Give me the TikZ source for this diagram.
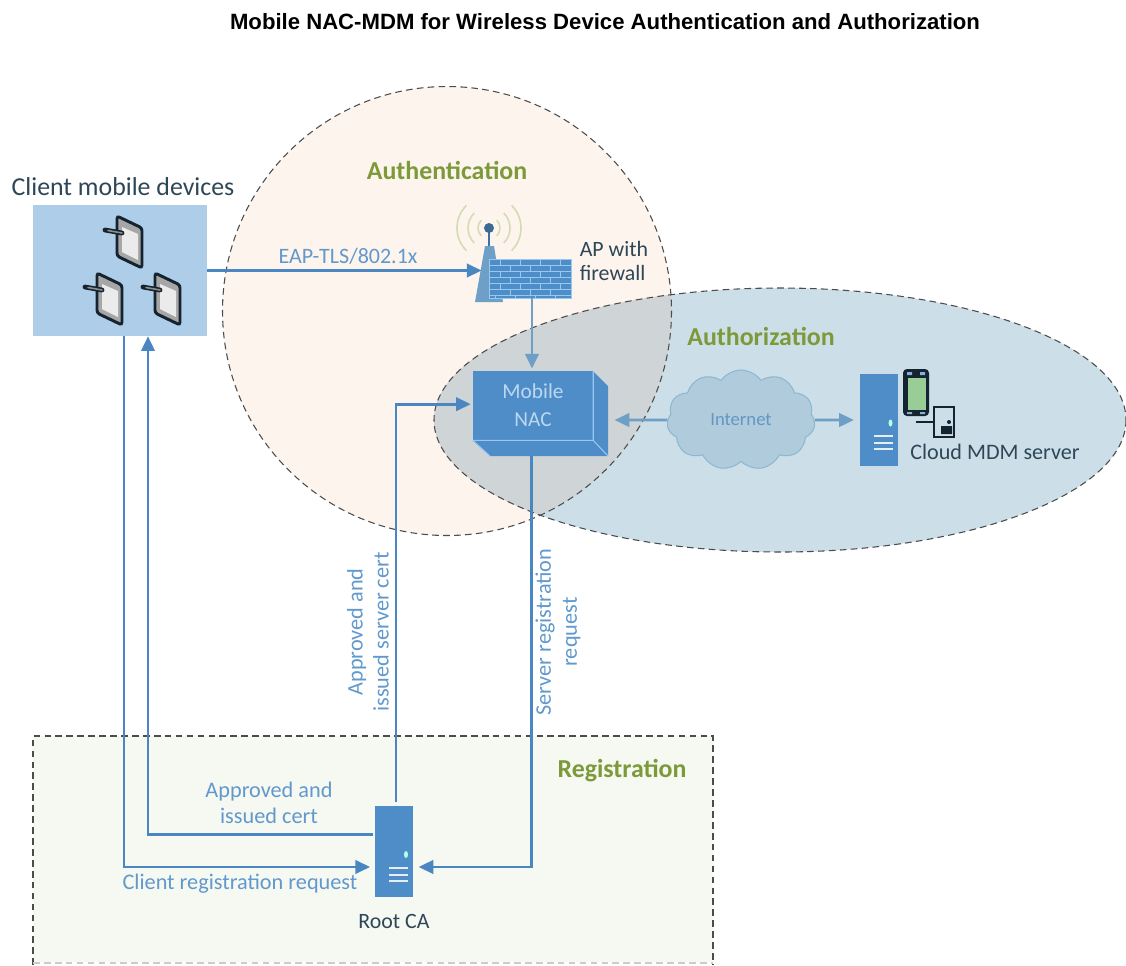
\documentclass[tikz,border=0pt]{standalone}
\usepackage{fontspec}
\setmainfont{Carlito}
\newfontfamily\titlefont{Liberation Sans}
\usetikzlibrary{arrows.meta,shapes.geometric,shapes.symbols}
\definecolor{linkblue}{HTML}{4A86C2}
\definecolor{paleblue}{HTML}{6E9FC6}
\definecolor{boxblue}{HTML}{4F8DC8}
\definecolor{brickline}{HTML}{96C8F0}
\definecolor{labelblue}{HTML}{6199CC}
\definecolor{inkdark}{HTML}{2E4757}
\definecolor{devicedark}{HTML}{14232F}
\definecolor{zoneolive}{HTML}{7C9A3A}
\definecolor{wavegreen}{HTML}{D3DCB2}
\definecolor{authfill}{HTML}{FDF4ED}
\definecolor{authzfill}{HTML}{CCDEE8}
\definecolor{overlapfill}{HTML}{CFD4D6}
\definecolor{regfill}{HTML}{F6F8F2}
\tikzset{%
  link/.style = {draw=linkblue, line width=2pt, -{Triangle[length=11pt,width=10pt]}},
  softlink/.style = {draw=paleblue, line width=2pt, -{Triangle[length=11pt,width=10pt]}},
  zone/.style = {draw=black!70, line width=.8pt, dash pattern=on 5pt off 3.2pt},
  zonelabel/.style = {text=zoneolive, font=\fontsize{19.4}{22}\selectfont\bfseries},
  darklabel/.style = {text=inkdark, align=center, font=\fontsize{16.6}{18}\selectfont},
  bluelabel/.style = {text=labelblue, align=center, font=\fontsize{16.7}{19.5}\selectfont},
  serverbox/.style = {shape=rectangle, fill=boxblue, inner sep=0pt,
    minimum width=28.5pt, minimum height=68.5pt},
  tablet/.pic = {
    \draw[draw=devicedark, line width=2.2pt, rounded corners=2pt, fill=black!35]
      (-13,-26) -- (12,-14) -- (12,26) -- (-13,14) -- cycle;
    \fill[black!8] (-8,-15) -- (8,-8) -- (8,18) -- (-8,10) -- cycle;
    \draw[draw=devicedark, line width=3.6pt, line cap=round] (-25,-12) -- (-8,-9);
    \draw[draw=black!45, line width=1.2pt, line cap=round] (-22,-11.5) -- (-8,-9);
  }
}
\newcommand{\serverbits}[1]{%
  \begin{scope}[shift={(#1.center)}]
    \fill[green!30!cyan!30] (12,3) ellipse [x radius=2, y radius=3.5];
    \foreach \rowy in {16,23,29}
      \draw[white!85!boxblue, line width=1.5pt] (-5,\rowy) -- (14,\rowy);
  \end{scope}}
\begin{document}
\begin{tikzpicture}[x=.75pt,y=-.75pt]
  \useasboundingbox (0,0) rectangle (1126,965);
  % zones
  \fill[regfill] (33,736) rectangle (713,962);
  \draw[zone] (33,965) -- (33,736) -- (713,736) -- (713,965);
  \draw[zone, draw=black!20] (33,963) -- (713,963);
  \fill[authfill] (447,311) circle [radius=224.5];
  \fill[authzfill] (780,420) ellipse [x radius=346, y radius=132];
  \begin{scope}
    \clip (447,311) circle [radius=224.5];
    \fill[overlapfill] (780,420) ellipse [x radius=346, y radius=132];
  \end{scope}
  \draw[zone] (447,311) circle [radius=224.5];
  \draw[zone] (780,420) ellipse [x radius=346, y radius=132];
  \node[zonelabel] (authlabel) at (447,170) {Authentication};
  \node[zonelabel] (authzlabel) at (761,336) {Authorization};
  \node[zonelabel] (reglabel) at (622,771) {Registration};
  % title
  \node[font=\titlefont\fontsize{16.6}{18}\selectfont\bfseries] (title) at (605,22)
    {Mobile NAC-MDM for Wireless Device Authentication and Authorization};
  % client devices
  \node[shape=rectangle, fill={rgb,255:red,174;green,205;blue,233}, inner sep=0pt,
    minimum width=130.5pt, minimum height=98.25pt] (clients) at (120,270.5) {};
  \node[darklabel, font=\fontsize{19.4}{22}\selectfont] (clientlabel) at (123,187) {Client mobile devices};
  \pic at (130,242) {tablet};
  \pic at (110,299) {tablet};
  \pic at (168,299) {tablet};
  % access point
  \foreach \rad in {11,21,32} {
    \draw[draw=wavegreen, line width=1.2pt] (489,228) ++(135:\rad) arc (135:225:\rad);
    \draw[draw=wavegreen, line width=1.2pt] (489,228) ++(45:\rad) arc (45:-45:\rad);
  }
  \fill[fill=paleblue] (485,246) -- (494,246) -- (503,302) -- (475,302) -- cycle;
  \draw[draw=boxblue!80!black, line width=2pt] (489,246) -- (489,230);
  \fill[fill=boxblue!75!black] (489,228) circle [radius=5];
  \node[shape=rectangle, fill=boxblue, inner sep=0pt, draw=brickline, line width=.6pt,
    minimum width=61.5pt, minimum height=29.25pt] (firewall) at (530,278.5) {};
  \begin{scope}[shift={(firewall.center)}, draw=brickline, line width=.6pt]
    \foreach \rowy in {-13.5,-7.5,-1.5,4.5,10.5,16.5}
      \draw (-41,\rowy) -- (41,\rowy);
    \foreach \rowy in {-19.5,-7.5,4.5} \foreach \colx in {-30,-10,10,30}
      \draw (\colx,\rowy) -- ++(0,6);
    \foreach \rowy in {-13.5,-1.5,10.5} \foreach \colx in {-20,0,20}
      \draw (\colx,\rowy) -- ++(0,6);
    \foreach \colx in {-35,-15,5,25}
      \draw (\colx,16.5) -- ++(0,3);
  \end{scope}
  \node[darklabel, align=left, font=\fontsize{16.4}{18}\selectfont] (aplabel) at (614,261) {AP with\\firewall};
  % mobile nac
  \fill[fill=boxblue] (593,371) -- (608,386) -- (608,456) -- (490,456) -- (473,440) -- cycle;
  \node[shape=rectangle, fill=boxblue, inner sep=0pt, text={rgb,255:red,188;green,216;blue,240},
    align=center, minimum width=90pt, minimum height=52pt, font=\fontsize{16}{21}\selectfont] (nac) at (533,405.5) {Mobile\\NAC};
  \draw[draw=brickline, line width=.8pt]
    (nac.north east) -- (nac.south east) -- (608,456) (nac.south west) -- (490,456)
    (nac.south west) -- (nac.south east);
  % internet and mdm
  \node[shape=cloud, cloud puffs=11, cloud puff arc=110, aspect=1.5, inner sep=0pt,
    fill={rgb,255:red,176;green,204;blue,220}, draw={rgb,255:red,140;green,184;blue,212}, line width=.8pt,
    minimum width=111pt, minimum height=75pt, text=labelblue!90!gray,
    font=\fontsize{14}{16}\selectfont] (internet) at (741,420) {Internet};
  \node[serverbox] (mdm) at (878.5,420) {};
  \serverbits{mdm}
  \fill[fill=devicedark, rounded corners=3pt] (903,369) rectangle (929,416);
  \fill[fill=green!35!gray!60!white] (908,378) rectangle (926,410);
  \fill[fill=boxblue!70!white] (907,372) rectangle (912,375) (920,372) rectangle (925,375)
    (907,412) rectangle (912,414) (920,412) rectangle (925,414);
  \draw[draw=devicedark, line width=1.5pt] (934,407) rectangle (954,437);
  \draw[draw=devicedark, line width=1.1pt] (916,422) -- (934,422);
  \fill[fill=devicedark] (941,426) rectangle (952,434) (949,422) circle [radius=2];
  \node[darklabel] (mdmlabel) at (995,452) {Cloud MDM server};
  % root ca
  \node[serverbox] (rootca) at (394,851.5) {};
  \serverbits{rootca}
  \node[darklabel, font=\fontsize{16.4}{18}\selectfont] (rootlabel) at (394,921) {Root CA};
  % flows
  \draw[link] (clients.east) -- ([xshift=-5.25pt,yshift=6pt]firewall.west);
  \node[bluelabel, font=\fontsize{16.5}{18}\selectfont] (eaptext) at (348,256) {EAP-TLS/802.1x};
  \draw[softlink] ([xshift=1.5pt]firewall.south) -- ([xshift=-.75pt,yshift=1.5pt]nac.north);
  \draw[softlink] (internet.west) -- ([xshift=16pt,yshift=-10.9pt]nac.east);
  \draw[softlink] (internet.east) -- ([xshift=-4pt]mdm.west);
  \draw[link] ([xshift=-1pt,yshift=-12pt]nac.south) |- ([xshift=4pt,yshift=-11.6pt]rootca.east);
  \draw[link] ([xshift=1.5pt,yshift=2.5pt]rootca.north) |- ([xshift=-1.5pt,yshift=1pt]nac.west);
  \draw[link] ([xshift=-1.5pt,yshift=13pt]rootca.west) -| ([xshift=21pt]clients.south);
  \draw[link] ([xshift=3pt]clients.south) |- ([xshift=-3.5pt,yshift=-11.6pt]rootca.west);
  \node[bluelabel, rotate=90] (certlabel) at (368,632) {Approved and\\issued server cert};
  \node[bluelabel, rotate=90] (reqlabel) at (558,632) {Server registration\\request};
  \node[bluelabel] (issuedlabel) at (269,803) {Approved and\\issued cert};
  \node[bluelabel] (clientreq) at (240,884) {Client registration request};
\end{tikzpicture}
\end{document}
